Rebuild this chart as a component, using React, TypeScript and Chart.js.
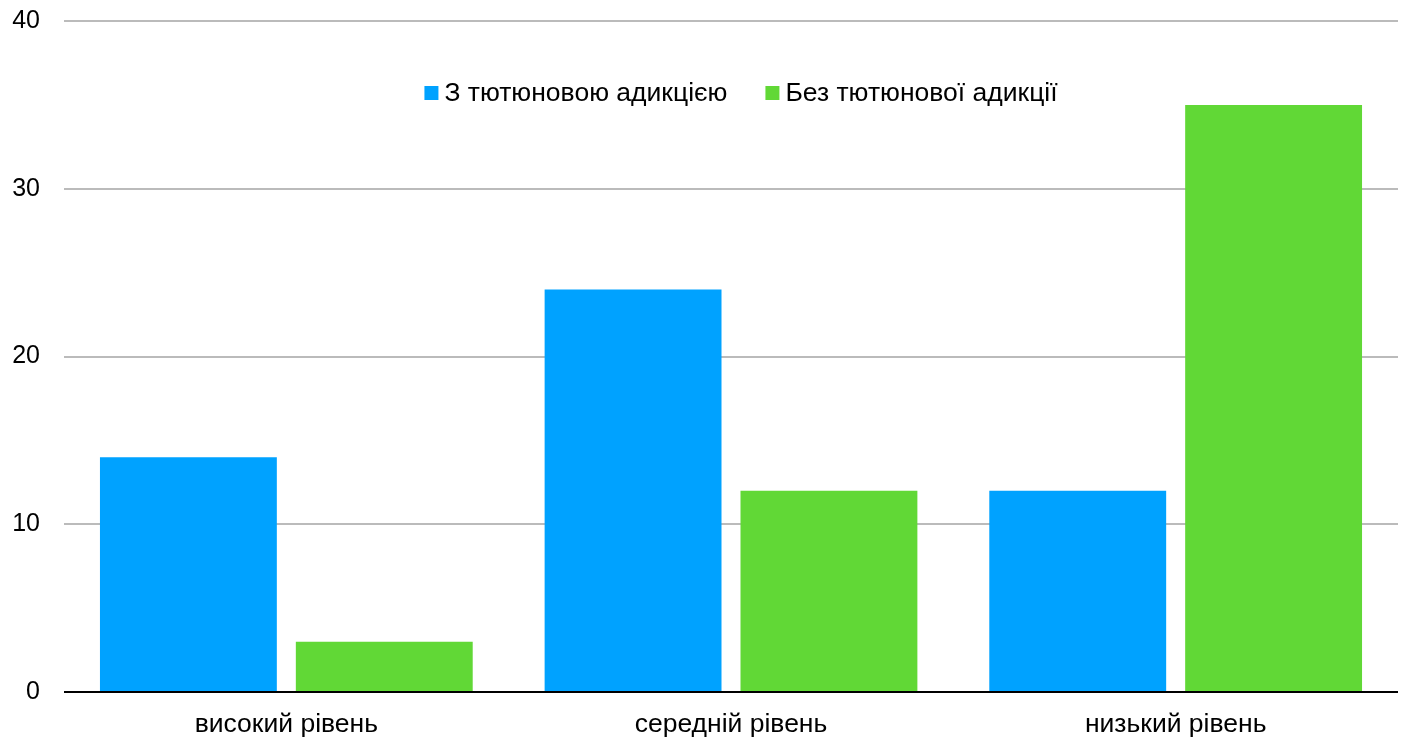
import React, { useEffect, useRef } from "react";
import { Chart, registerables } from "chart.js";

Chart.register(...registerables);

const categories = ["високий рівень", "середній рівень", "низький рівень"];
const seriesNames = ["З тютюновою адикцією", "Без тютюнової адикції"];
const withAddiction = [14, 24, 12];
const withoutAddiction = [3, 12, 35];
const yTicks = [0, 10, 20, 30, 40];

const BLUE = "#00A2FF";
const GREEN = "#61D836";
const FONT = "'Liberation Sans', Arial, sans-serif";
const LABEL_SIZE = 26.5;
const TICK_SIZE = 25;

// Legend drawn inside the plot area, near the top, centred horizontally.
const innerLegend = {
  id: "innerLegend",
  afterDraw(chart: any) {
    const { ctx, chartArea } = chart;
    const box = 14;
    const boxGap = 6;
    const itemGap = 38;
    ctx.save();
    ctx.font = `${LABEL_SIZE}px ${FONT}`;
    ctx.textBaseline = "middle";
    const items = chart.data.datasets.map((ds: any) => ({
      label: ds.label,
      color: ds.backgroundColor,
      w: box + boxGap + ctx.measureText(ds.label).width,
    }));
    const total =
      items.reduce((s: number, it: any) => s + it.w, 0) + itemGap * (items.length - 1);
    let x = (chartArea.left + chartArea.right) / 2 + 10 - total / 2;
    const y = chartArea.top + 72;
    for (const it of items) {
      ctx.fillStyle = it.color;
      ctx.fillRect(x, y - box / 2, box, box);
      ctx.fillStyle = "#000";
      ctx.textAlign = "left";
      ctx.fillText(it.label, x + box + boxGap, y + 1);
      x += it.w + itemGap;
    }
    ctx.restore();
  },
};

export default function App() {
  const ref = useRef<HTMLCanvasElement | null>(null);

  useEffect(() => {
    document.body.style.margin = "0";
    const canvas = ref.current;
    if (!canvas) return;
    const chart = new Chart(canvas, {
      type: "bar",
      data: {
        labels: categories,
        datasets: [
          {
            label: seriesNames[0],
            data: withAddiction,
            backgroundColor: BLUE,
            categoryPercentage: 0.881,
            barPercentage: 0.903,
          },
          {
            label: seriesNames[1],
            data: withoutAddiction,
            backgroundColor: GREEN,
            categoryPercentage: 0.881,
            barPercentage: 0.903,
          },
        ],
      },
      options: {
        responsive: false,
        animation: false,
        layout: { padding: { top: 21, right: 10, left: 0, bottom: 0 } },
        plugins: {
          legend: { display: false },
          tooltip: { enabled: false },
        },
        scales: {
          x: {
            grid: { display: false, drawTicks: false },
            border: { display: false },
            ticks: {
              color: "#000",
              padding: 17,
              font: { family: FONT, size: LABEL_SIZE },
            },
            afterFit: (scale: any) => {
              scale.height = 48;
            },
          },
          y: {
            min: 0,
            max: 40,
            afterBuildTicks: (scale: any) => {
              scale.ticks = yTicks.map((v) => ({ value: v }));
            },
            grid: {
              drawTicks: false,
              lineWidth: 2,
              color: (c: any) => (c.tick && c.tick.value === 0 ? "#000" : "#BBBBBB"),
            },
            border: { display: false },
            ticks: {
              color: "#000",
              padding: 24,
              font: { family: FONT, size: TICK_SIZE },
            },
            afterFit: (scale: any) => {
              scale.width = 64;
              scale.paddingTop = 0;
              scale.paddingBottom = 0;
            },
          },
        },
      },
      plugins: [innerLegend],
    });
    return () => chart.destroy();
  }, []);

  return (
    <div style={{ width: 1408, height: 740, background: "#fff" }}>
      <canvas ref={ref} width={1408} height={740} />
    </div>
  );
}
